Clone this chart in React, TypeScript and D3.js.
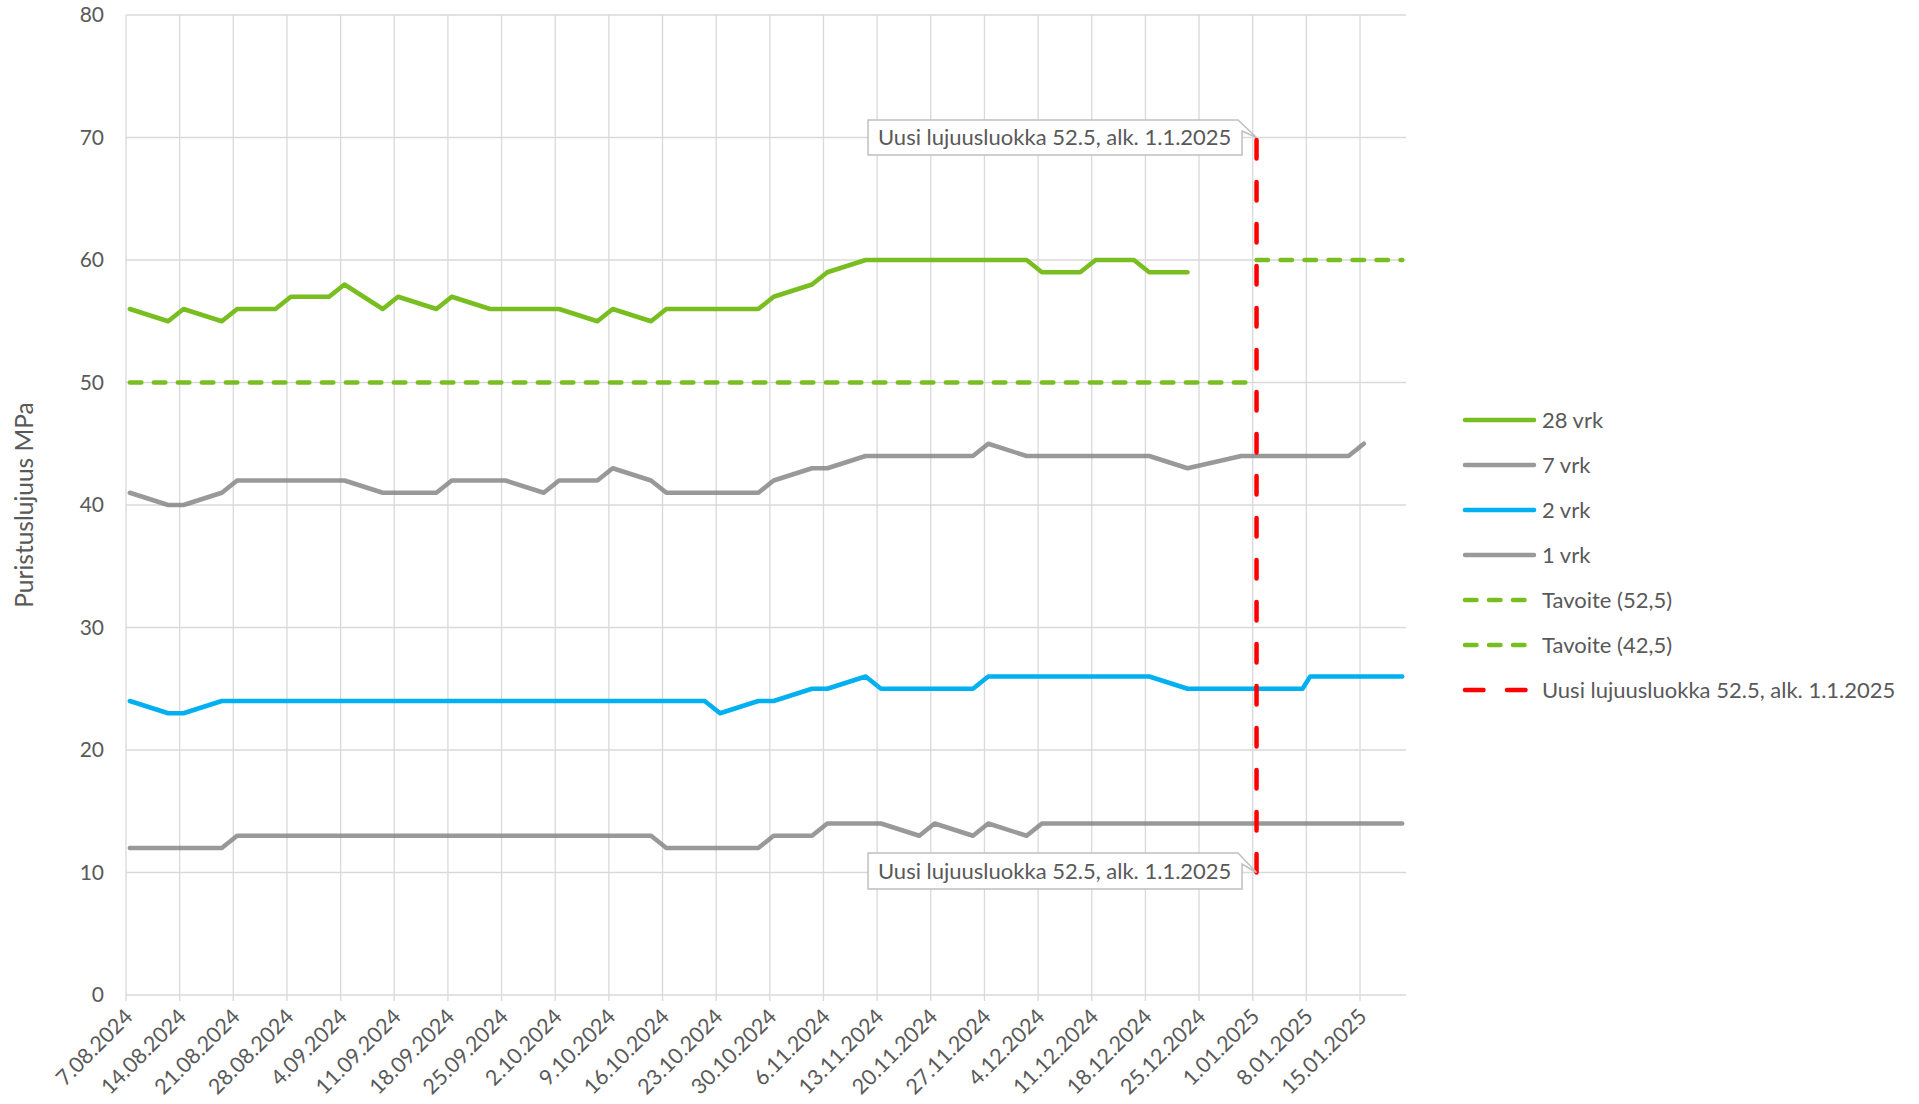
import React from 'react';
import * as d3 from 'd3';

// sample dates (Mon / Wed testing days)
const dates = [
  '2024-08-07', '2024-08-12', '2024-08-14', '2024-08-19', '2024-08-21', '2024-08-26', '2024-08-28',
  '2024-09-02', '2024-09-04', '2024-09-09', '2024-09-11', '2024-09-16', '2024-09-18', '2024-09-23',
  '2024-09-25', '2024-09-30', '2024-10-02', '2024-10-07', '2024-10-09', '2024-10-14', '2024-10-16',
  '2024-10-21', '2024-10-23', '2024-10-28', '2024-10-30', '2024-11-04', '2024-11-06', '2024-11-11',
  '2024-11-13', '2024-11-18', '2024-11-20', '2024-11-25', '2024-11-27', '2024-12-02', '2024-12-04',
  '2024-12-09', '2024-12-11', '2024-12-16', '2024-12-18', '2024-12-23', '2024-12-30', '2025-01-07',
  '2025-01-08', '2025-01-13', '2025-01-15', '2025-01-20',
];

const vrk28 = [
  56, 55, 56, 55, 56, 56, 57, 57, 58, 56, 57, 56, 57, 56, 56, 56, 56, 55, 56, 55, 56, 56, 56,
  56, 57, 58, 59, 60, 60, 60, 60, 60, 60, 60, 59, 59, 60, 60, 59, 59, null, null, null, null, null, null,
];
const vrk7 = [
  41, 40, 40, 41, 42, 42, 42, 42, 42, 41, 41, 41, 42, 42, 42, 41, 42, 42, 43, 42, 41, 41, 41,
  41, 42, 43, 43, 44, 44, 44, 44, 44, 45, 44, 44, 44, 44, 44, 44, 43, 44, 44, 44, 44, 45, null,
];
const vrk2 = [
  24, 23, 23, 24, 24, 24, 24, 24, 24, 24, 24, 24, 24, 24, 24, 24, 24, 24, 24, 24, 24, 24, 23,
  24, 24, 25, 25, 26, 25, 25, 25, 25, 26, 26, 26, 26, 26, 26, 26, 25, 25, 25, 26, 26, 26, 26,
];
const vrk1 = [
  12, 12, 12, 12, 13, 13, 13, 13, 13, 13, 13, 13, 13, 13, 13, 13, 13, 13, 13, 13, 12, 12, 12,
  12, 13, 13, 14, 14, 14, 13, 14, 13, 14, 13, 14, 14, 14, 14, 14, 14, 14, 14, 14, 14, 14, 14,
];

// targets
const target425Dates = ['2024-08-07', '2024-12-31'];
const target425Values = [50, 50];
const target525Dates = ['2025-01-01', '2025-01-20'];
const target525Values = [60, 60];

// new strength class marker
const newClassDates = ['2025-01-01', '2025-01-01'];
const newClassValues = [10, 70];
const newClassLabel = 'Uusi lujuusluokka 52.5, alk. 1.1.2025';

const yTicks = [0, 10, 20, 30, 40, 50, 60, 70, 80];
const axisRange = ['2024-08-07', '2025-01-21'];
const yTitle = 'Puristuslujuus MPa';

const W = 1919;
const H = 1104;
const FONT = 'Lato, "Open Sans", sans-serif';
const TXT = '#595959';
const GREEN = '#78BE20';
const GREY = '#808080';
const BLUE = '#00B0F0';
const RED = '#FF0000';

const parse = d3.utcParse('%Y-%m-%d');
const fmt = d3.utcFormat('%-d.%m.%Y');

const plot = { left: 126, right: 1406, top: 15, bottom: 995 };

export default function App() {
  const x = d3.scaleUtc()
    .domain(axisRange.map(d => parse(d)))
    .range([plot.left, plot.right]);
  const y = d3.scaleLinear().domain([0, 80]).range([plot.bottom, plot.top]);

  // Excel date axis: a point sits in the middle of its day
  const px = (s) => x(d3.utcHour.offset(parse(s), 12));

  const line = d3.line().x(d => d[0]).y(d => d[1]);
  const pathFor = (ds, vs) => line(
    ds.map((d, i) => [d, vs[i]])
      .filter(p => p[1] != null)
      .map(p => [px(p[0]), y(p[1])])
  );

  const xTicks = d3.utcDay.range(parse(axisRange[0]), parse(axisRange[1]), 7);

  const series = [
    { name: '28 vrk', d: pathFor(dates, vrk28), color: GREEN, dash: null, op: 1 },
    { name: '7 vrk', d: pathFor(dates, vrk7), color: GREY, dash: null, op: 0.8 },
    { name: '2 vrk', d: pathFor(dates, vrk2), color: BLUE, dash: null, op: 1 },
    { name: '1 vrk', d: pathFor(dates, vrk1), color: GREY, dash: null, op: 0.8 },
    { name: 'Tavoite (52,5)', d: pathFor(target525Dates, target525Values), color: GREEN, dash: '11.5 12.5', op: 1 },
    { name: 'Tavoite (42,5)', d: pathFor(target425Dates, target425Values), color: GREEN, dash: '11.5 12.5', op: 1 },
    { name: newClassLabel, d: pathFor(newClassDates, newClassValues), color: RED, dash: '18.5 23.5', op: 1 },
  ];

  const tipX = px(newClassDates[0]);
  const callouts = [
    { tipY: y(newClassValues[1]), top: y(newClassValues[1]) - 17.5, h: 35 },
    { tipY: y(newClassValues[0]), top: y(newClassValues[0]) - 19.5, h: 36 },
  ];
  const boxR = tipX - 14.5;
  const boxL = boxR - 374;

  return (
    <div style={{ position: 'absolute', left: 0, top: 0 }}>
      <svg width={W} height={H} style={{ display: 'block', background: '#fff' }} fontFamily={FONT}>
        {/* grid */}
        {yTicks.map(t => (
          <line key={'h' + t} x1={plot.left} x2={plot.right} y1={y(t)} y2={y(t)} stroke="#d9d9d9" strokeWidth={1.3} />
        ))}
        {xTicks.map(t => (
          <line key={'v' + +t} x1={x(t)} x2={x(t)} y1={plot.top} y2={plot.bottom + 6} stroke="#d9d9d9" strokeWidth={1.3} />
        ))}

        {/* y labels */}
        {yTicks.map(t => (
          <text key={'yl' + t} x={104} y={y(t)} dy="0.35em" textAnchor="end" fontSize={21} fill={TXT}>{t}</text>
        ))}
        <text transform={`translate(24,${(plot.top + plot.bottom) / 2}) rotate(-90)`} textAnchor="middle" dy="0.35em" fontSize={24.5} fill={TXT}>{yTitle}</text>

        {/* x labels */}
        {xTicks.map(t => (
          <text key={'xl' + +t} transform={`translate(${x(t) + 8},${plot.bottom + 23}) rotate(-45)`} textAnchor="end" fontSize={21.5} fill={TXT}>{fmt(t)}</text>
        ))}

        {/* series */}
        {series.map(s => (
          <path key={s.name} d={s.d} fill="none" stroke={s.color} strokeOpacity={s.op} strokeWidth={4.5}
            strokeLinecap="round" strokeLinejoin="round" strokeDasharray={s.dash || undefined} />
        ))}

        {/* callouts */}
        {callouts.map((c, i) => {
          const T = c.top, B = c.top + c.h;
          const d = `M${boxL},${T} H${boxR - 4} L${tipX},${c.tipY} L${boxR},${T + 11} V${B} H${boxL} Z`;
          return (
            <g key={'c' + i}>
              <path d={d} fill="#fff" stroke="#bfbfbf" strokeWidth={1.5} />
              <text x={boxL + 10} y={(T + B) / 2} dy="0.35em" fontSize={22} fill={TXT}>{newClassLabel}</text>
            </g>
          );
        })}

        {/* legend */}
        {series.map((s, i) => {
          const ly = 420 + i * 45;
          return (
            <g key={'lg' + i}>
              <line x1={1465} x2={1534} y1={ly} y2={ly} stroke={s.color} strokeOpacity={s.op} strokeWidth={4.5}
                strokeLinecap="round" strokeDasharray={s.dash || undefined} />
              <text x={1542} y={ly} dy="0.35em" fontSize={22} fill={TXT}>{s.name}</text>
            </g>
          );
        })}
      </svg>
    </div>
  );
}
